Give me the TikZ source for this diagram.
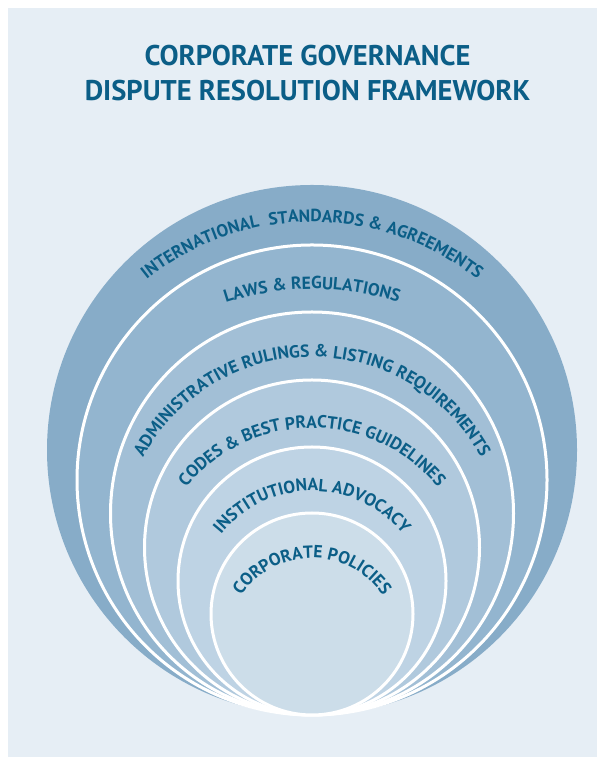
\documentclass[tikz,border=0pt]{standalone}
\usepackage{fontspec}
\setmainfont{PT Sans}
\usetikzlibrary{decorations.text}
\definecolor{bgc}{HTML}{E6EEF5}
\definecolor{ringA}{HTML}{87ACC8}
\definecolor{ringB}{HTML}{93B5CF}
\definecolor{ringC}{HTML}{A2BFD6}
\definecolor{ringD}{HTML}{B0C9DD}
\definecolor{ringE}{HTML}{BED3E4}
\definecolor{ringF}{HTML}{CCDDE9}
\definecolor{txtc}{HTML}{0B5E87}
\newcommand\labfmt{\fontsize{17.5}{17.5}\selectfont\bfseries\color{txtc}}
\tikzset{
  ring/.style={fill=#1, draw=white, line width=3pt},
  outerring/.style={fill=#1},
  titletext/.style={text=txtc, font=\fontsize{28.5}{28.5}\selectfont\bfseries, anchor=base, inner sep=0pt},
  arclabel/.style={decorate, decoration={text along path, text align=center, text={#1}}}
}
\begin{document}
\begin{tikzpicture}[x=1pt,y=1pt]
\useasboundingbox (0,0) rectangle (597,759);
\fill[bgc] (8,2) rectangle (597,751);
% title
\node[titletext] (t1) at (307.5,693) {CORPORATE GOVERNANCE};
\node[titletext] (t2) at (307.5,658) {DISPUTE RESOLUTION FRAMEWORK};
% rings
\fill[outerring=ringA] (312,309) circle[radius=265];
\filldraw[ring=ringB] (312,279) circle[radius=235];
\filldraw[ring=ringC] (312,245.5) circle[radius=201.5];
\filldraw[ring=ringD] (312,211.5) circle[radius=167.5];
\filldraw[ring=ringE] (312,178) circle[radius=134];
\filldraw[ring=ringF] (312,145) circle[radius=101];
% labels
\path[arclabel={|\labfmt|INTERNATIONAL {\kern5pt}STANDARDS {\&} AGREEMENTS}] (312,271) ++(180:266) arc[start angle=180,end angle=0,radius=266];
\path[arclabel={|\labfmt|LAWS {\&} REGULATIONS}] (312,193) ++(150:277) arc[start angle=150,end angle=30,radius=277];
\path[arclabel={|\labfmt|ADMINISTRATIVE RULINGS {\&} LISTING REQUIREMENTS}] (312,210) ++(180:192) arc[start angle=180,end angle=0,radius=192];
\path[arclabel={|\labfmt|CODES {\&} BEST PRACTICE GUIDELINES}] (312,168) ++(180:163) arc[start angle=180,end angle=0,radius=163];
\path[arclabel={|\labfmt|INSTITUTIONAL ADVOCACY}] (312,151) ++(180:117) arc[start angle=180,end angle=0,radius=117];
\path[arclabel={|\labfmt|CORPORATE POLICIES}] (312,116) ++(180:85) arc[start angle=180,end angle=0,radius=85];
\end{tikzpicture}
\end{document}
